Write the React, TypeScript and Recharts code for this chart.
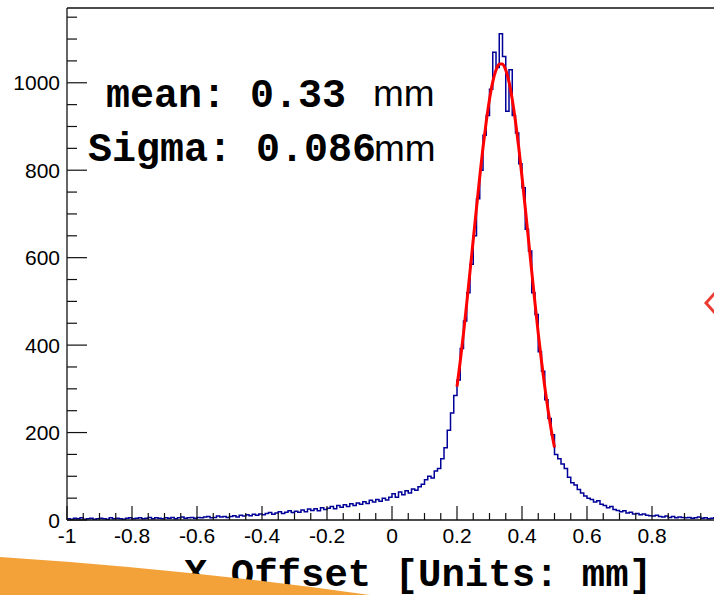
import React from "react"
import { ComposedChart, Line, XAxis, YAxis, ReferenceLine } from "recharts"

// histogram bins: 0.01 wide, left edges from -1.00
const binStart = -1
const binWidth = 0.01

const countsBelowZero = [
 3, 2, 4, 3, 5, 2, 3, 4, 2, 3,
 4, 3, 2, 5, 3, 4, 3, 2, 4, 5,
 3, 4, 5, 3, 4, 6, 3, 5, 4, 3,
 5, 4, 6, 3, 5, 7, 4, 5, 6, 4,
 6, 5, 7, 8, 5, 6, 9, 7, 8, 6,
 8, 10, 7, 11, 9, 12, 10, 13, 11, 14,
 12, 15, 17, 13, 16, 19, 15, 18, 21, 17,
 20, 18, 23, 19, 25, 22, 26, 21, 28, 24,
 27, 31, 26, 33, 29, 35, 31, 37, 33, 39,
 36, 42, 38, 45, 41, 47, 43, 50, 46, 52,
]

const countsAboveZero = [
 60, 52, 64, 58, 67, 62, 71, 68, 76, 82,
 92, 100, 96, 112, 118, 140, 165, 205, 245, 285,
 320, 392, 455, 520, 585, 650, 735, 800, 880, 925,
 985, 1070, 1035, 1112, 1060, 935, 1030, 925, 885, 815,
 760, 665, 615, 520, 470, 385, 340, 275, 232, 195,
 150, 140, 128, 118, 98, 85, 80, 70, 62, 55,
 50, 47, 41, 44, 36, 33, 28, 31, 24, 22,
 19, 21, 16, 18, 14, 15, 12, 14, 11, 10,
 9, 11, 8, 7, 9, 6, 8, 5, 7, 6,
 5, 6, 4, 5, 7, 4, 5, 3, 4, 5,
]

// gaussian fit, drawn from 0.20 to 0.50
const fitStart = 0.2
const fitStep = 0.01
const fitValues = [
 305, 363, 427, 496, 568, 641, 714, 785, 852, 911,
 962, 1002, 1029, 1043, 1043, 1029, 1002, 962, 911, 852,
 785, 714, 641, 568, 496, 427, 363, 305, 252, 206, 166,
]

const xMajorTicks = [-1, -0.8, -0.6, -0.4, -0.2, 0, 0.2, 0.4, 0.6, 0.8, 1]
const xLabels = ["-1", "-0.8", "-0.6", "-0.4", "-0.2", "0", "0.2", "0.4", "0.6", "0.8"]
const yTicks = [
 0, 50, 100, 150, 200, 250, 300, 350, 400, 450, 500, 550,
 600, 650, 700, 750, 800, 850, 900, 950, 1000, 1050, 1100, 1150,
]
const yLabels = [0, 200, 400, 600, 800, 1000]

const yMax = 1171
const W = 730
const H = 595

const allCounts = [...countsBelowZero, ...countsAboveZero]
const histData = allCounts.map((c, i) => ({
 x: Number((binStart + i * binWidth).toFixed(3)),
 count: c,
}))
histData.push({ x: 1, count: allCounts[allCounts.length - 1] })

const fitData = fitValues.map((v, i) => ({
 x: Number((fitStart + i * fitStep).toFixed(3)),
 fit: v,
}))

const xTicks: number[] = []
for (let i = 0; i <= 40; i++) xTicks.push(Number((-1 + i * 0.05).toFixed(2)))

const sans = "'Liberation Sans', Arial, Helvetica, sans-serif"
const mono = "'Liberation Mono', 'Courier New', monospace"

const XTick = (props: any) => {
 const { x, y, payload } = props
 const v = payload.value
 const idx = xMajorTicks.findIndex((m) => Math.abs(m - v) < 1e-6)
 const major = idx >= 0
 const label = major ? xLabels[idx] : undefined
 return (
  <g>
   <line x1={x} x2={x} y1={y} y2={y - (major ? 14 : 7)} stroke="#111" strokeWidth={1.2} />
   {label !== undefined && (
    <text x={x} y={y + 23} textAnchor="middle" fontFamily={sans} fontSize={21} fill="#000">
     {label}
    </text>
   )}
  </g>
 )
}

const YTick = (props: any) => {
 const { x, y, payload } = props
 const v = payload.value
 const major = yLabels.includes(v)
 return (
  <g>
   <line x1={x} x2={x + (major ? 20 : 10)} y1={y} y2={y} stroke="#111" strokeWidth={1.2} />
   {major && (
    <text x={x - 7} y={y + 7.5} textAnchor="end" fontFamily={sans} fontSize={21} fill="#000">
     {v}
    </text>
   )}
  </g>
 )
}

export default function App() {
 return (
  <div
   style={{
    position: "absolute",
    left: 0,
    top: 0,
    width: 714,
    height: 595,
    overflow: "hidden",
    background: "#fff",
   }}>
   <ComposedChart width={W} height={H} margin={{ top: 8, right: 13, left: 7, bottom: 45 }}>
    <XAxis
     dataKey="x"
     type="number"
     domain={[-1, 1]}
     ticks={xTicks}
     interval={0}
     allowDataOverflow
     height={30}
     tickSize={0}
     tickMargin={0}
     tickLine={false}
     axisLine={{ stroke: "#111", strokeWidth: 1.3 }}
     tick={<XTick />}
    />
    <YAxis
     type="number"
     domain={[0, yMax]}
     ticks={yTicks}
     interval={0}
     allowDataOverflow
     width={60}
     tickSize={0}
     tickMargin={0}
     tickLine={false}
     axisLine={{ stroke: "#111", strokeWidth: 1.3 }}
     tick={<YTick />}
    />
    <ReferenceLine y={yMax} stroke="#111" strokeWidth={1.3} />
    <ReferenceLine x={1} stroke="#111" strokeWidth={1.3} />
    <Line
     data={histData}
     dataKey="count"
     type="stepAfter"
     stroke="#000099"
     strokeWidth={1.5}
     dot={false}
     isAnimationActive={false}
    />
    <Line
     data={fitData}
     dataKey="fit"
     type="monotone"
     stroke="#ff0000"
     strokeWidth={3}
     dot={false}
     isAnimationActive={false}
    />
   </ComposedChart>
   <svg
    width={714}
    height={595}
    style={{ position: "absolute", left: 0, top: 0, pointerEvents: "none" }}>
    <text x={106} y={107} fontFamily={mono} fontSize={40} fill="#000">
     <tspan fontWeight="bold">mean:</tspan>
     <tspan x={250} fontWeight="bold">0.33</tspan>
    </text>
    <text x={373} y={106} fontFamily={sans} fontSize={37} fill="#000">
     mm
    </text>
    <text x={88} y={161} fontFamily={mono} fontSize={40} fill="#000">
     <tspan fontWeight="bold">Sigma:</tspan>
     <tspan x={256} fontWeight="bold">0.086</tspan>
    </text>
    <text x={374} y={161} fontFamily={sans} fontSize={37} fill="#000">
     mm
    </text>
    <text x={184} y={586} fontFamily={mono} fontSize={39} fontWeight="bold" fill="#000">
     X Offset [Units: mm]
    </text>
    <path d="M0,557 Q185,569 370,595 L0,595 Z" fill="#f3a23a" />
    <polyline points="715,293 706,303 715,313" fill="none" stroke="#ec3c33" strokeWidth={3} />
   </svg>
  </div>
 )
}
